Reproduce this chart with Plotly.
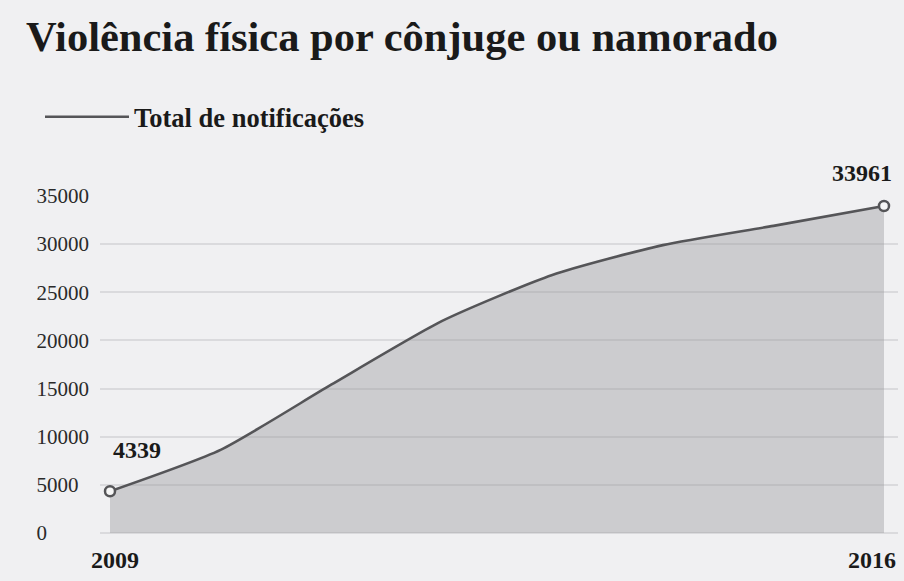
import plotly.graph_objects as go

years = [2009, 2010, 2011, 2012, 2013, 2014, 2015, 2016]
notificacoes = [4339, 8640, 15400, 22000, 26800, 29900, 31900, 33961]
y_ticks = [0, 5000, 10000, 15000, 20000, 25000, 30000, 35000]
x_ticks = [2009, 2016]
title_text = "Violência física por cônjuge ou namorado"
series_name = "Total de notificações"

SERIF = "Liberation Serif, Times New Roman, serif"
BG = "#f0f0f2"
INK = "#1a1a1a"

# pad y tick labels so they appear left-aligned (figure spaces)
maxlen = max(len(str(v)) for v in y_ticks)
y_ticktext = [str(v) + "\u2007" * (maxlen - len(str(v))) for v in y_ticks]

fig = go.Figure()

# filled area (no legend)
fig.add_trace(go.Scatter(
    x=years, y=notificacoes, mode="lines",
    line=dict(width=0, shape="spline", smoothing=0.6),
    fill="tozeroy", fillcolor="rgba(150,150,156,0.40)",
    showlegend=False, hoverinfo="skip",
))

# line
fig.add_trace(go.Scatter(
    x=years, y=notificacoes, mode="lines", name=series_name,
    line=dict(color="#555558", width=2.6, shape="spline", smoothing=0.6),
))

# end point markers
fig.add_trace(go.Scatter(
    x=[years[0], years[-1]], y=[notificacoes[0], notificacoes[-1]],
    mode="markers",
    marker=dict(size=10, color="#f6f6f6", line=dict(color="#555558", width=2.5)),
    showlegend=False, cliponaxis=False,
))

# value labels at the ends
fig.add_annotation(x=years[0], y=notificacoes[0], xref="x", yref="y",
                   text="<b>%d</b>" % notificacoes[0], showarrow=False,
                   xanchor="left", yanchor="bottom", xshift=1, yshift=26,
                   font=dict(family=SERIF, size=24, color=INK))
fig.add_annotation(x=years[-1], y=notificacoes[-1], xref="x", yref="y",
                   text="<b>%d</b>" % notificacoes[-1], showarrow=False,
                   xanchor="right", yanchor="bottom", xshift=10, yshift=18,
                   font=dict(family=SERIF, size=24, color=INK))

# x labels (first and last year) placed on the x scale
fig.add_annotation(x=x_ticks[0], y=0, xref="x", yref="paper",
                   text="<b>%d</b>" % x_ticks[0], showarrow=False,
                   xanchor="center", yanchor="top", xshift=5, yshift=-12,
                   font=dict(family=SERIF, size=24, color=INK))
fig.add_annotation(x=x_ticks[-1], y=0, xref="x", yref="paper",
                   text="<b>%d</b>" % x_ticks[-1], showarrow=False,
                   xanchor="right", yanchor="top", xshift=14, yshift=-12,
                   font=dict(family=SERIF, size=24, color=INK))

fig.update_layout(
    width=904, height=581,
    paper_bgcolor=BG, plot_bgcolor=BG,
    margin=dict(l=100, r=6, t=196, b=48, autoexpand=False),
    title=dict(
        text="<b>" + title_text + "</b>",
        font=dict(family=SERIF, size=42.5, color=INK),
        x=26 / 904, xanchor="left", xref="container",
        y=1 - 21 / 581, yanchor="top", yref="container",
    ),
    legend=dict(
        x=40 / 904, xanchor="left", xref="container",
        y=1 - 93 / 581, yanchor="top", yref="container",
        font=dict(family=SERIF, size=26.5, color=INK, weight="bold"),
        bgcolor="rgba(0,0,0,0)", itemwidth=84,
    ),
    showlegend=True,
    xaxis=dict(
        range=[2009 - 10 / 110.6, 2016 + 14 / 110.6],
        showticklabels=False,
        showgrid=False, zeroline=False, showline=False, ticks="",
    ),
    yaxis=dict(
        range=[0, 35000],
        tickvals=y_ticks, ticktext=y_ticktext,
        showgrid=True, gridcolor="#dadadd", gridwidth=2,
        zeroline=True, zerolinecolor="#dadadd", zerolinewidth=2,
        showline=False, ticks="",
        tickfont=dict(family=SERIF, size=21, color="#2a2a2a"),
        ticklabelstandoff=10,
    ),
)

fig.write_html("out.html", config={"displayModeBar": False},
               post_script="document.body.style.margin='0';document.body.style.padding='0';")
